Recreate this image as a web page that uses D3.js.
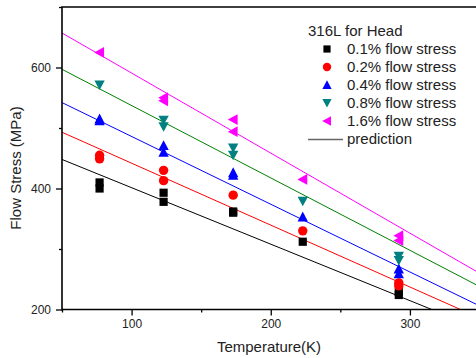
<!DOCTYPE html>
<html>
<head>
<meta charset="utf-8">
<script src="https://cdn.jsdelivr.net/npm/d3@7"></script>
<style>
  body { margin: 0; background: #fff; }
  svg { display: block; font-family: "Liberation Sans", Arial, sans-serif; }
</style>
</head>
<body>
<div id="chart"></div>
<script>
// measured points: [temperature K, flow stress MPa]
const stress01 = [[77, 410], [77, 400], [123, 393], [123, 378], [173, 362], [173, 360], [223, 312], [292, 229], [292, 224]];
const stress02 = [[77, 455], [77, 449], [123, 430], [123, 413], [173, 389], [223, 330], [292, 244], [292, 239]];
const stress04 = [[77, 515], [77, 512], [123, 471], [123, 460], [173, 426], [173, 422], [223, 353], [292, 267], [292, 259]];
const stress08 = [[77, 571], [123, 513], [123, 502], [173, 467], [173, 455], [223, 379], [292, 288], [292, 281]];
const stress16 = [[77, 625], [123, 550], [123, 545], [173, 514], [173, 494], [223, 415], [292, 322], [292, 314]];

// prediction lines, value at T = 50 and T = 350
const predT = [50, 350];
const pred01 = [448, 168];
const pred02 = [493, 186];
const pred04 = [542, 206];
const pred08 = [597, 238];
const pred16 = [657, 260];

const xMajor = [100, 200, 300];
const xMinor = [50, 150, 250, 350];
const yMajor = [200, 400, 600];
const yMinor = [300, 500, 700];

const legendLabels = ['0.1% flow stress', '0.2% flow stress', '0.4% flow stress', '0.8% flow stress', '1.6% flow stress'];

const width = 476, height = 358;
const mLeft = 62, mTop = 7, mBottom = 309.5, mRight = 479.5;

const svg = d3.select('#chart').append('svg')
  .attr('width', width)
  .attr('height', height);

const x = d3.scaleLinear().domain([50, 350]).range([mLeft, mRight]);
const y = d3.scaleLinear().domain([200, 700]).range([mBottom, mTop]);

svg.append('clipPath').attr('id', 'plot')
  .append('rect')
  .attr('x', mLeft).attr('y', mTop)
  .attr('width', mRight - mLeft).attr('height', mBottom - mTop);

// marker shapes
const shapes = {
  square: s => `M${-s},${-s}H${s}V${s}H${-s}Z`,
  up: s => `M${-s * 1.1},${s * 0.95}L${s * 1.1},${s * 0.95}L0,${-s * 1.15}Z`,
  down: s => `M${-s * 1.1},${-s * 0.95}L${s * 1.1},${-s * 0.95}L0,${s * 1.05}Z`,
  left: s => `M${s * 0.95},${-s * 1.15}L${s * 0.95},${s * 1.15}L${-s * 1.15},0Z`
};

const series = [
  { pts: stress01, pred: pred01, color: '#000000', line: '#000000', shape: 'square', size: 4.1 },
  { pts: stress02, pred: pred02, color: '#ff0000', line: '#ff0000', shape: 'circle', size: 4.7 },
  { pts: stress04, pred: pred04, color: '#0000ff', line: '#0000ff', shape: 'up', size: 4.7 },
  { pts: stress08, pred: pred08, color: '#008080', line: '#008000', shape: 'down', size: 4.7 },
  { pts: stress16, pred: pred16, color: '#ff00ff', line: '#ff00ff', shape: 'left', size: 4.7 }
];

function drawMarker(g, shape, size, color, cx, cy) {
  if (shape === 'circle') {
    g.append('circle').attr('cx', cx).attr('cy', cy).attr('r', size).attr('fill', color);
  } else {
    g.append('path').attr('d', shapes[shape](size))
      .attr('transform', `translate(${cx},${cy})`)
      .attr('fill', color);
  }
}

// prediction lines
const line = d3.line().x(d => x(d[0])).y(d => y(d[1]));
const lines = svg.append('g').attr('clip-path', 'url(#plot)');
series.forEach(s => {
  lines.append('path')
    .datum(predT.map((t, i) => [t, s.pred[i]]))
    .attr('d', line)
    .attr('fill', 'none')
    .attr('stroke', s.line)
    .attr('stroke-width', 1);
});

// markers
const marks = svg.append('g');
series.forEach(s => {
  s.pts.forEach(p => drawMarker(marks, s.shape, s.size, s.color, x(p[0]), y(p[1])));
});

// axes
const fmt = d3.format('d');
svg.append('g').attr('transform', `translate(0,${mBottom})`)
  .call(d3.axisBottom(x).tickValues(xMajor).tickFormat(fmt).tickSize(6).tickSizeOuter(0).tickPadding(4));
svg.append('g').attr('transform', `translate(0,${mBottom})`)
  .call(d3.axisBottom(x).tickValues(xMinor).tickFormat('').tickSize(3).tickSizeOuter(0));
svg.append('g').attr('transform', `translate(${mLeft},0)`)
  .call(d3.axisLeft(y).tickValues(yMajor).tickFormat(fmt).tickSize(6).tickSizeOuter(0).tickPadding(5));
svg.append('g').attr('transform', `translate(${mLeft},0)`)
  .call(d3.axisLeft(y).tickValues(yMinor).tickFormat('').tickSize(3).tickSizeOuter(0));

svg.selectAll('.domain').remove();
svg.selectAll('.tick line').attr('stroke', '#000').attr('stroke-width', 1.3);
svg.selectAll('.tick text').attr('font-size', 12).attr('fill', '#222')
  .attr('font-family', '"Liberation Sans", Arial, sans-serif');

// frame
svg.append('path')
  .attr('d', `M${width},${mTop}H${mLeft}V${mBottom}H${width}`)
  .attr('fill', 'none')
  .attr('stroke', '#000')
  .attr('stroke-width', 1.6);

// axis titles
svg.append('text')
  .attr('x', 269).attr('y', 352)
  .attr('text-anchor', 'middle')
  .attr('font-size', 15)
  .attr('fill', '#222')
  .text('Temperature(K)');

svg.append('text')
  .attr('transform', 'translate(21,168) rotate(-90)')
  .attr('text-anchor', 'middle')
  .attr('font-size', 15)
  .attr('fill', '#222')
  .text('Flow Stress (MPa)');

// legend
const legend = svg.append('g');
legend.append('text')
  .attr('x', 308).attr('y', 36)
  .attr('font-size', 15).attr('fill', '#222')
  .text('316L for Head');

series.forEach((s, i) => {
  const base = 54 + i * 18;
  drawMarker(legend, s.shape, s.shape === 'square' ? 3.6 : 4.2, s.color, 327, base - 5);
  legend.append('text')
    .attr('x', 347).attr('y', base)
    .attr('font-size', 15).attr('fill', '#222')
    .text(legendLabels[i]);
});

legend.append('line')
  .attr('x1', 308).attr('x2', 343)
  .attr('y1', 139.5).attr('y2', 139.5)
  .attr('stroke', '#666').attr('stroke-width', 1.3);
legend.append('text')
  .attr('x', 347).attr('y', 144)
  .attr('font-size', 15).attr('fill', '#222')
  .text('prediction');
</script>
</body>
</html>
